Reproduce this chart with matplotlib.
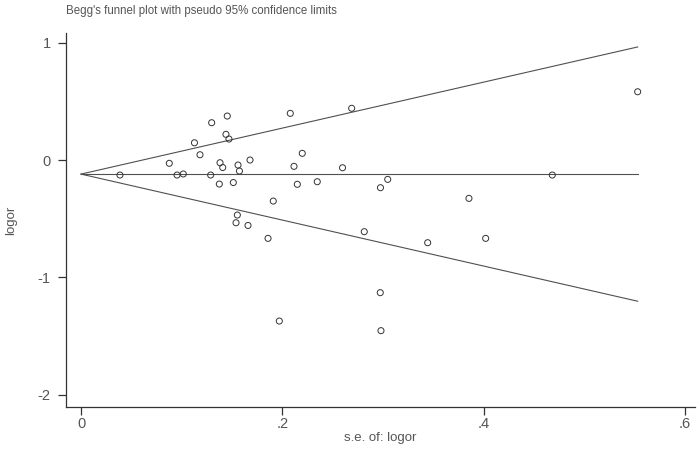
import matplotlib
matplotlib.use("Agg")
import matplotlib.pyplot as plt

# Study data: standard error of log OR and log OR
se = [0.0387, 0.0877, 0.0954, 0.1016, 0.1127, 0.1182, 0.1288, 0.1298, 0.1374, 0.1381,
      0.1408, 0.1440, 0.1453, 0.1470, 0.1513, 0.1560, 0.1574, 0.1553, 0.1540, 0.1659,
      0.1679, 0.1858, 0.1910, 0.1970, 0.2079, 0.2116, 0.2149, 0.2198, 0.2347, 0.2598,
      0.2689, 0.2814, 0.2975, 0.3047, 0.2973, 0.2980, 0.3444, 0.3854, 0.4020, 0.4682,
      0.5530]
logor = [-0.128, -0.028, -0.128, -0.119, 0.147, 0.045, -0.128, 0.318, -0.205, -0.023,
         -0.064, 0.219, 0.375, 0.179, -0.192, -0.043, -0.094, -0.469, -0.535, -0.558,
         0.000, -0.668, -0.350, -1.373, 0.398, -0.054, -0.207, 0.057, -0.185, -0.066,
         0.441, -0.611, -0.236, -0.165, -1.131, -1.455, -0.705, -0.327, -0.668, -0.128,
         0.582]

# Pseudo 95% confidence limits (end points of the funnel)
limit_se = [0.0, 0.553]
pooled = [-0.12, -0.12]
upper = [-0.12, 0.964]
lower = [-0.12, -1.204]

x_ticks = [0, 0.2, 0.4, 0.6]
x_ticklabels = ["0", ".2", ".4", ".6"]
y_ticks = [-2, -1, 0, 1]
y_ticklabels = ["-2", "-1", "0", "1"]

plt.rcParams['font.family'] = ['Liberation Sans', 'DejaVu Sans']
text_color = "#555555"
line_color = "#505050"

fig = plt.figure(figsize=(7.0, 4.49), dpi=100)
ax = fig.add_axes([0.0943, 0.0935, 0.8986, 0.8330])

ax.plot(limit_se, upper, color=line_color, lw=0.8)
ax.plot(limit_se, lower, color=line_color, lw=0.8)
ax.plot(limit_se, pooled, color=line_color, lw=0.8)
ax.scatter(se, logor, s=19, facecolors='none', edgecolors='#333333', linewidths=0.7, zorder=3)

ax.set_xlim(-0.0149, 0.61)
ax.set_ylim(-2.106, 1.083)

ax.set_xticks(x_ticks)
ax.set_xticklabels(x_ticklabels)
ax.set_yticks(y_ticks)
ax.set_yticklabels(y_ticklabels)

for s in ['top', 'right']:
    ax.spines[s].set_visible(False)
for s in ['left', 'bottom']:
    ax.spines[s].set_color('#333333')
    ax.spines[s].set_linewidth(0.9)

ax.tick_params(axis='both', direction='out', length=6, width=0.9, color='#333333',
               labelcolor=text_color, labelsize=10.5)
ax.tick_params(axis='y', pad=5)
ax.tick_params(axis='x', pad=1)

ax.set_xlabel("s.e. of: logor", color=text_color, fontsize=9.5, labelpad=1)
ax.set_ylabel("logor", color=text_color, fontsize=9.5, labelpad=15)

fig.text(0.0943, 0.988, "Begg's funnel plot with pseudo 95% confidence limits",
         ha='left', va='top', color=text_color, fontsize=8.3)

fig.savefig("out.png", dpi=100, facecolor='white')
